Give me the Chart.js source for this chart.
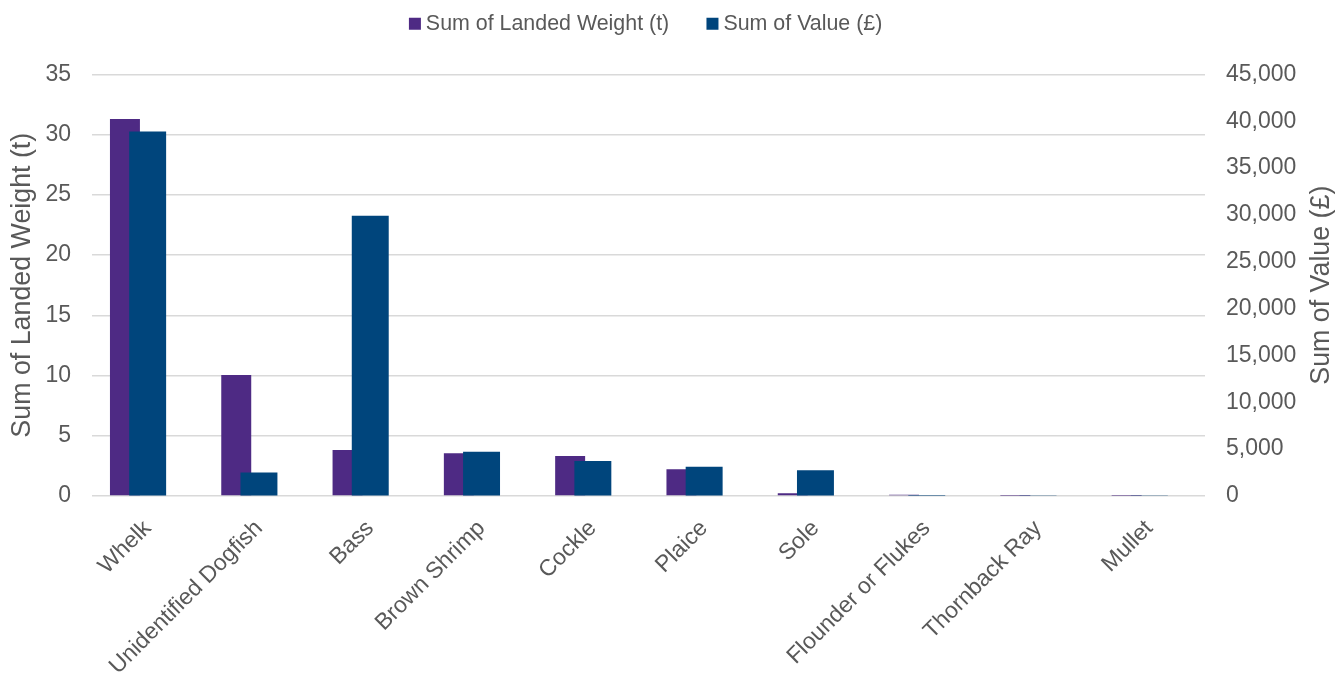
<!DOCTYPE html>
<html>
<head>
<meta charset="utf-8">
<script src="https://cdn.jsdelivr.net/npm/chart.js@4"></script>
<style>
  body { margin: 0; background: #fff; }
  #wrap { width: 1344px; height: 675px; }
</style>
</head>
<body>
<div id="wrap"><canvas id="myChart" width="1344" height="675"></canvas></div>
<script>
const species = ['Whelk', 'Unidentified Dogfish', 'Bass', 'Brown Shrimp', 'Cockle',
  'Plaice', 'Sole', 'Flounder or Flukes', 'Thornback Ray', 'Mullet'];
const landedWeight = [31.3, 10.05, 3.82, 3.55, 3.32, 2.22, 0.22, 0.1, 0.02, 0.02];
const landedValue = [38900, 2500, 29900, 4730, 3740, 3130, 2750, 120, 80, 80];
const weightTicks = [0, 5, 10, 15, 20, 25, 30, 35];
const valueTicks = [0, 5000, 10000, 15000, 20000, 25000, 30000, 35000, 40000, 45000];

const textColor = '#595959';
const gridColor = '#d9d9d9';
const fontFamily = '"Liberation Sans", Arial, sans-serif';
const valueTitle = 'Sum of Value (£)';

// extra room under the legend
const legendGap = {
  id: 'legendGap',
  beforeInit(chart) {
    const fit = chart.legend.fit;
    chart.legend.fit = function() {
      fit.bind(chart.legend)();
      this.height += 30;
    };
  }
};

// right axis title reads bottom-to-top like the left one
const rightTitle = {
  id: 'rightTitle',
  afterDraw(chart) {
    const {ctx, chartArea} = chart;
    ctx.save();
    ctx.translate(chart.width - 22, (chartArea.top + chartArea.bottom) / 2);
    ctx.rotate(-Math.PI / 2);
    ctx.font = '26.8px ' + fontFamily;
    ctx.fillStyle = textColor;
    ctx.textAlign = 'center';
    ctx.textBaseline = 'middle';
    ctx.fillText(valueTitle, 0, 0);
    ctx.restore();
  }
};

const ctx = document.getElementById('myChart');

new Chart(ctx, {
  type: 'bar',
  data: {
    labels: species,
    datasets: [{
      label: 'Sum of Landed Weight (t)',
      data: landedWeight,
      backgroundColor: '#4e2a84',
      yAxisID: 'y',
      order: 1,
      categoryPercentage: 0.816,
      barPercentage: 0.66
    }, {
      label: valueTitle,
      data: landedValue,
      backgroundColor: '#00457c',
      yAxisID: 'y1',
      order: 0,
      grouped: false,
      categoryPercentage: 1,
      barPercentage: 0.332
    }, {
      // empty slot so the weight bars sit left of the category centre
      label: '',
      data: species.map(() => null),
      yAxisID: 'y',
      order: 2,
      categoryPercentage: 0.816,
      barPercentage: 0.66
    }]
  },
  options: {
    responsive: false,
    animation: false,
    layout: { padding: { top: -30 } },
    plugins: {
      tooltip: { enabled: false },
      legend: {
        position: 'top',
        fullSize: false,
        labels: {
          color: textColor,
          font: { family: fontFamily, size: 21.4 },
          usePointStyle: true,
          pointStyle: 'rect',
          boxWidth: 0.5,
          boxHeight: 12,
          padding: 43,
          generateLabels: (chart) => Chart.defaults.plugins.legend.labels.generateLabels(chart)
            .map(item => ({ ...item, lineWidth: 0 })),
          sort: (a, b) => a.datasetIndex - b.datasetIndex,
          filter: (item) => item.text !== ''
        }
      }
    },
    scales: {
      x: {
        grid: { display: false },
        border: { display: false },
        ticks: {
          color: textColor,
          font: { family: fontFamily, size: 23 },
          minRotation: 45,
          maxRotation: 45,
          autoSkip: false,
          padding: 11
        },
        afterFit: (scale) => { scale.height = 179; }
      },
      y: {
        position: 'left',
        min: 0,
        max: 35,
        afterBuildTicks: (scale) => { scale.ticks = weightTicks.map(v => ({ value: v })); },
        grid: { color: gridColor, lineWidth: 1.5, drawTicks: false },
        border: { display: false },
        ticks: {
          color: textColor,
          font: { family: fontFamily, size: 23 },
          padding: 21
        },
        title: {
          display: true,
          text: 'Sum of Landed Weight (t)',
          color: textColor,
          font: { family: fontFamily, size: 26.8 },
          padding: { top: 7, bottom: 0 }
        },
        afterFit: (scale) => { scale.width = 92; }
      },
      y1: {
        position: 'right',
        min: 0,
        max: 45000,
        afterBuildTicks: (scale) => { scale.ticks = valueTicks.map(v => ({ value: v })); },
        grid: { drawOnChartArea: false, drawTicks: false },
        border: { display: false },
        ticks: {
          color: textColor,
          font: { family: fontFamily, size: 23 },
          padding: 21,
          callback: (v) => v.toLocaleString('en-GB')
        },
        afterFit: (scale) => { scale.width = 139; }
      }
    }
  },
  plugins: [legendGap, rightTitle]
});
</script>
</body>
</html>
